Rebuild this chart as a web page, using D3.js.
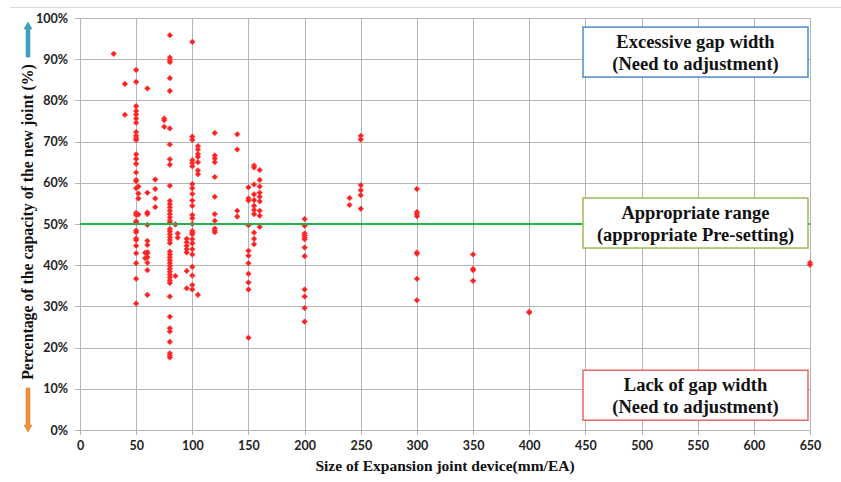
<!DOCTYPE html>
<html>
<head>
<meta charset="utf-8">
<script src="https://cdn.jsdelivr.net/npm/d3@7"></script>
<style>
  body { margin: 0; background: #fff; }
  .tick text { font-family: Lato, "Open Sans", sans-serif; font-weight: bold; font-size: 12.5px; fill: #222; }
  .title { font-family: "Liberation Serif", "DejaVu Serif", serif; font-weight: bold; fill: #111; }
</style>
</head>
<body>
<svg id="chart" width="841" height="482"></svg>
<script>
// joint sizes (mm/EA) and the measured capacities (%) at each size
var jointSizes = [30, 40, 50, 52, 58, 60, 67, 75, 80, 85, 87, 95, 100, 105, 120, 140, 150, 155, 160, 200, 240, 250, 300, 350, 400, 650];
var capacities = [
    [91.3],
    [84.0, 76.5],
    [87.4, 84.5, 78.6, 77.4, 76.6, 75.6, 74.6, 72.3, 71.4, 70.8, 70.4, 66.9, 65.8, 64.6, 62.5, 60.7, 60.4, 58.7,
     52.7, 52.2, 50.7, 50.3, 48.4, 48.0, 46.5, 46.1, 44.7, 42.9, 40.5, 36.7, 30.7],
    [59.1, 57.4, 56.2, 52.3],
    [43.0, 41.7],
    [82.9, 57.6, 52.8, 52.4, 49.8, 45.9, 44.9, 43.2, 42.9, 41.9, 40.6, 38.8, 32.8],
    [60.8, 58.5, 56.2, 54.1],
    [75.6, 75.2, 73.6],
    [95.8, 90.4, 89.8, 89.3, 85.4, 82.3, 73.2, 69.3, 65.7, 64.4, 59.3, 55.6, 54.8, 54.0, 53.2, 52.4, 51.6, 50.8, 50.3,
     48.8, 48.2, 47.5, 46.8, 46.1, 45.4, 43.3, 42.6, 41.9, 41.2, 40.5, 39.8, 39.1, 38.4, 37.7, 37.0, 36.3, 35.7,
     32.4, 27.5, 24.7, 23.9, 21.4, 18.6, 18.1, 17.6],
    [49.9, 37.4],
    [47.7, 46.7],
    [46.4, 45.6, 44.7, 43.9, 43.1, 38.6, 34.4],
    [94.2, 71.2, 70.4, 65.5, 64.8, 64.0, 59.7, 58.7, 57.3, 55.7, 54.4, 52.2, 51.4, 50.0, 48.3, 47.9, 47.5, 46.3, 45.3,
     43.9, 42.6, 39.6, 37.5, 35.2, 34.1],
    [68.9, 68.1, 67.0, 66.3, 65.0, 63.0, 62.1, 32.8],
    [72.1, 66.6, 65.9, 65.0, 61.4, 56.6, 52.4, 50.8, 48.9, 48.4, 48.0],
    [71.8, 68.1, 53.2, 51.8],
    [58.9, 56.2, 55.7, 49.7, 43.5, 42.3, 40.5, 37.9, 35.8, 34.1, 22.4],
    [64.2, 63.7, 59.6, 57.2, 55.8, 54.4, 53.4, 52.4, 47.9, 46.4, 45.1],
    [63.1, 60.7, 59.1, 57.6, 56.6, 55.5, 53.2, 52.0, 49.3],
    [51.2, 49.6, 47.7, 47.2, 46.7, 46.3, 44.3, 42.2, 34.1, 32.4, 29.6, 26.3],
    [56.3, 54.6],
    [71.4, 70.5, 59.4, 58.2, 57.0, 53.7],
    [58.5, 52.9, 52.4, 51.9, 43.1, 42.8, 36.7, 31.5],
    [42.6, 39.1, 38.8, 36.2],
    [28.7, 28.5],
    [40.6, 40.1]
];
var xTicks = d3.range(0, 651, 50);
var yTicks = d3.range(0, 101, 10);
var appropriateLevel = 50;

var zoneBoxes = [
    { lines: ["Excessive gap width", "(Need to adjustment)"], top: 97.8, color: "#4a8ccc" },
    { lines: ["Appropriate range", "(appropriate Pre-setting)"], top: 56.3, color: "#9bbb59" },
    { lines: ["Lack of gap width", "(Need to adjustment)"], top: 14.5, color: "#e8686a" }
];

var points = [];
jointSizes.forEach(function (s, i) {
    capacities[i].forEach(function (v) { points.push({ size: s, pct: v }); });
});

var svg = d3.select("#chart");
var plotLeft = 80, plotRight = 810, plotTop = 18, plotBottom = 430;

var x = d3.scaleLinear().domain([0, 650]).range([plotLeft, plotRight]);
var y = d3.scaleLinear().domain([0, 100]).range([plotBottom, plotTop]);

svg.append("rect").attr("width", 841).attr("height", 482).attr("fill", "#fff");
svg.append("line").attr("x1", 10).attr("x2", 841).attr("y1", 7.5).attr("y2", 7.5)
    .attr("stroke", "#d9d9d9");

// grid
svg.append("g").selectAll("line").data(yTicks).join("line")
    .attr("x1", plotLeft - 5).attr("x2", plotRight)
    .attr("y1", d => Math.round(y(d)) + 0.5).attr("y2", d => Math.round(y(d)) + 0.5)
    .attr("stroke", "#b5b5b5");
svg.append("g").selectAll("line").data(xTicks).join("line")
    .attr("y1", plotTop).attr("y2", plotBottom + 5)
    .attr("x1", d => Math.round(x(d)) + 0.5).attr("x2", d => Math.round(x(d)) + 0.5)
    .attr("stroke", "#b5b5b5");

// axes labels
var xAxis = svg.append("g").attr("transform", "translate(0," + plotBottom + ")")
    .call(d3.axisBottom(x).tickValues(xTicks).tickSize(0).tickPadding(11));
xAxis.select(".domain").remove();

var yAxis = svg.append("g").attr("transform", "translate(" + plotLeft + ",0)")
    .call(d3.axisLeft(y).tickValues(yTicks).tickSize(0).tickPadding(12).tickFormat(d => d + "%"));
yAxis.select(".domain").remove();

// markers
svg.append("g").selectAll("path").data(points).join("path")
    .attr("transform", d => "translate(" + x(d.size) + "," + y(d.pct) + ")")
    .attr("d", d3.symbol().type(d3.symbolDiamond2).size(20))
    .attr("fill", "#ff1f1f").attr("stroke", "#ff4040").attr("stroke-width", 0.6);

// 50% line
svg.append("line")
    .attr("x1", plotLeft).attr("x2", plotRight)
    .attr("y1", y(appropriateLevel)).attr("y2", y(appropriateLevel))
    .attr("stroke", "#25b04a").attr("stroke-width", 2);

// zone boxes
var boxX = 583, boxW = 225, boxH = 50;
zoneBoxes.forEach(function (b) {
    var g = svg.append("g").attr("transform", "translate(" + boxX + "," + y(b.top) + ")");
    g.append("rect").attr("width", boxW).attr("height", boxH)
        .attr("fill", "#fff").attr("stroke", b.color).attr("stroke-width", 1.5);
    g.selectAll("text").data(b.lines).join("text")
        .attr("class", "title")
        .attr("x", boxW / 2).attr("y", (d, i) => 21 + i * 22)
        .attr("text-anchor", "middle").attr("font-size", 18.5)
        .text(d => d);
});

// axis titles
svg.append("text").attr("class", "title")
    .attr("x", (plotLeft + plotRight) / 2).attr("y", 471)
    .attr("text-anchor", "middle").attr("font-size", 15.5)
    .text("Size of Expansion joint device(mm/EA)");

svg.append("text").attr("class", "title")
    .attr("transform", "translate(33,222) rotate(-90)")
    .attr("text-anchor", "middle").attr("font-size", 15.8)
    .text("Percentage of the capacity of the new joint (%)");

// direction arrows
function arrow(x0, yTip, yEnd, color) {
    var dir = yEnd > yTip ? 1 : -1;
    var head = 7 * dir;
    var pts = [[x0, yTip], [x0 + 4, yTip + head], [x0 + 2, yTip + head], [x0 + 2, yEnd],
               [x0 - 2, yEnd], [x0 - 2, yTip + head], [x0 - 4, yTip + head]];
    svg.append("path").attr("d", d3.line()(pts) + "Z")
        .attr("fill", color).attr("stroke", d3.color(color).darker(0.4)).attr("stroke-width", 0.5);
}
arrow(28, 22, 57, "#3fa0c0");
arrow(28, 432, 388, "#f28f3b");
</script>
</body>
</html>
